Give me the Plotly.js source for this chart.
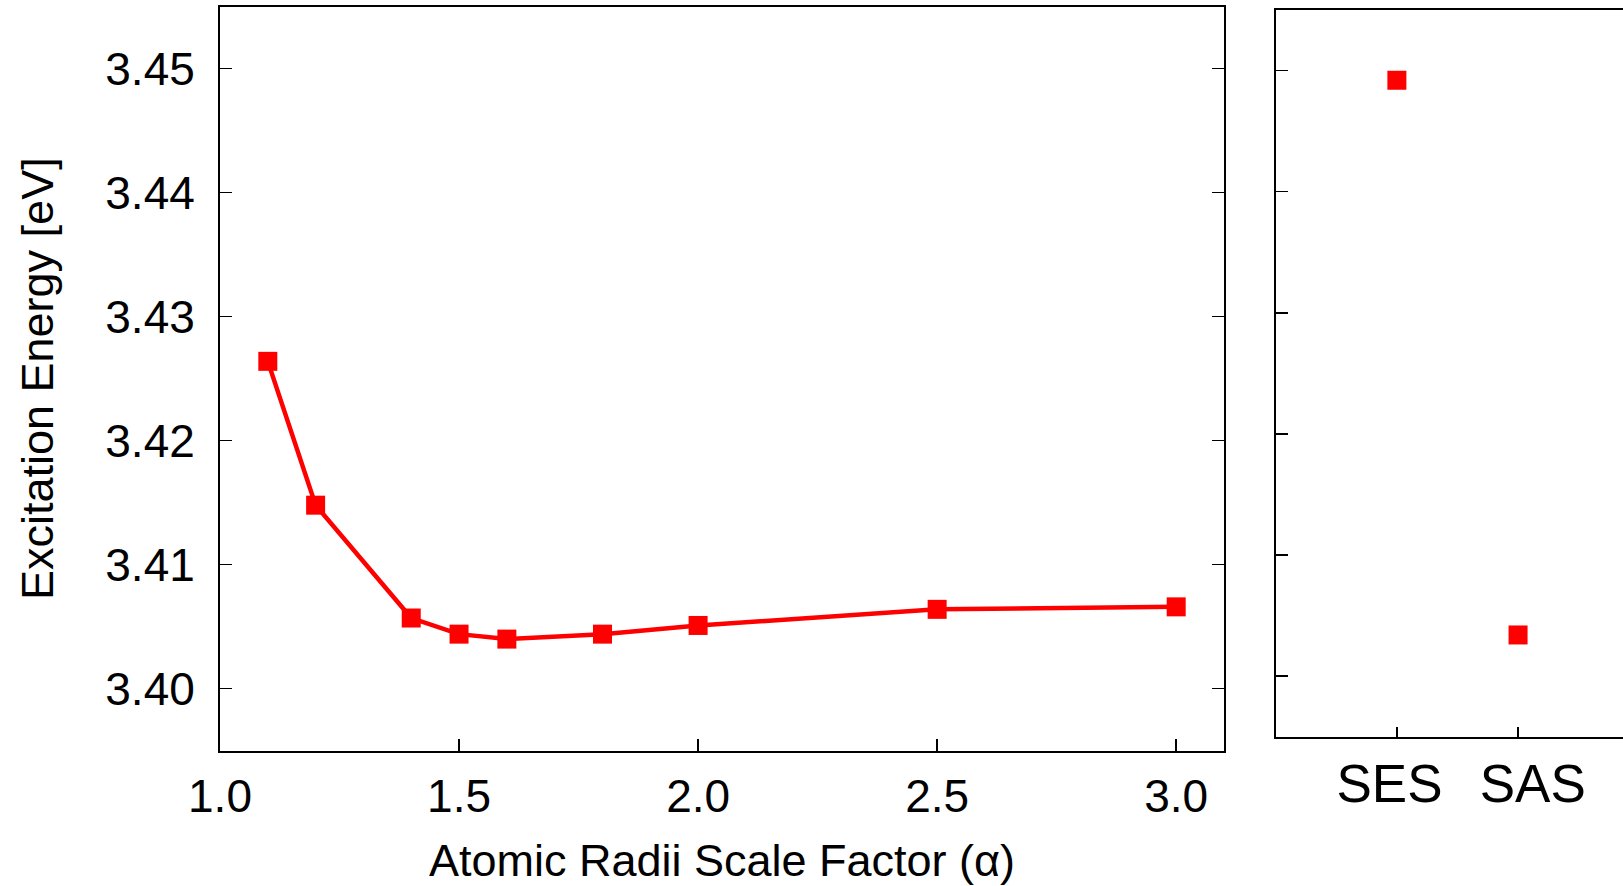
<!DOCTYPE html>
<html>
<head>
<meta charset="utf-8">
<script src="https://cdn.plot.ly/plotly-3.0.1.min.js"></script>
<style>
  html, body { margin: 0; padding: 0; background: #fff; overflow: hidden; }
  #chart { width: 1623px; height: 886px; }
</style>
</head>
<body>
<div id="chart"></div>
<script>
// Scan of atomic radii scale factor
const alphaValues = [1.1, 1.2, 1.4, 1.5, 1.6, 1.8, 2.0, 2.5, 3.0];
const alphaEnergy = [3.4264, 3.4148, 3.4057, 3.4044, 3.4040, 3.4044, 3.4051, 3.4064, 3.4066];

// Surface types
const surfaceCategories = ['SES', 'SAS'];
const surfaceEnergy = [3.4492, 3.4034];

const xTickVals = [1.0, 1.5, 2.0, 2.5, 3.0];
const xTickText = ['1.0', '1.5', '2.0', '2.5', '3.0'];
const yTickVals = [3.40, 3.41, 3.42, 3.43, 3.44, 3.45];
const yTickText = ['3.40', '3.41', '3.42', '3.43', '3.44', '3.45'];

const RED = '#ff0000';
const FONT = 'Liberation Sans, Arial, Helvetica, sans-serif';
const NBSP = '\u00a0';

const traces = [
  {
    x: alphaValues, y: alphaEnergy,
    type: 'scatter', mode: 'lines+markers',
    line: { color: RED, width: 4.5 },
    marker: { symbol: 'square', size: 19, color: RED },
    xaxis: 'x', yaxis: 'y', showlegend: false, cliponaxis: false
  },
  {
    x: surfaceCategories.map((c, i) => i), y: surfaceEnergy,
    type: 'scatter', mode: 'markers',
    marker: { symbol: 'square', size: 19, color: RED },
    xaxis: 'x2', yaxis: 'y2', showlegend: false, cliponaxis: false
  }
];

const W = 1623, H = 886;
const axisCommon = {
  showgrid: false, zeroline: false, showline: true,
  linecolor: '#000', linewidth: 2,
  ticks: 'inside', ticklen: 12, tickwidth: 1.5, tickcolor: '#000',
  tickangle: 0,
  tickfont: { family: FONT, size: 46, color: '#000' }
};

const layout = {
  width: W, height: H,
  margin: { l: 0, r: 0, t: 0, b: 0 },
  paper_bgcolor: '#fff', plot_bgcolor: '#fff',
  font: { family: FONT, color: '#000' },
  xaxis: Object.assign({}, axisCommon, {
    domain: [220 / W, 1224 / W],
    range: [1.0, 3.1],
    tickmode: 'array', tickvals: xTickVals, ticktext: xTickText,
    mirror: true,
    anchor: 'y',
    ticklabelstandoff: 4,
    title: { text: 'Atomic Radii Scale Factor (α)', font: { family: FONT, size: 45, color: '#000' }, standoff: 44 },
    automargin: false
  }),
  yaxis: Object.assign({}, axisCommon, {
    domain: [1 - 750.7 / H, 1 - 6.7 / H],
    range: [3.395, 3.455],
    tickmode: 'array', tickvals: yTickVals, ticktext: yTickText,
    mirror: 'ticks',
    anchor: 'x',
    ticklabelstandoff: 14,
    title: { text: 'Excitation Energy [eV]', font: { family: FONT, size: 45, color: '#000' }, standoff: 38 },
    automargin: false
  }),
  xaxis2: Object.assign({}, axisCommon, {
    domain: [1275.7 / W, 1.0],
    range: [-1, 1.866],
    tickmode: 'array', tickvals: surfaceCategories.map((c, i) => i),
    ticktext: [surfaceCategories[0] + NBSP, NBSP + NBSP + surfaceCategories[1]],
    tickfont: { family: FONT, size: 53, color: '#000' },
    tickangle: 0,
    ticklen: 10,
    mirror: true,
    anchor: 'y2',
    ticklabelstandoff: 0,
    automargin: false
  }),
  yaxis2: Object.assign({}, axisCommon, {
    domain: [1 - 736.7 / H, 1 - 10 / H],
    range: [3.395, 3.455],
    tickmode: 'array', tickvals: yTickVals, showticklabels: false,
    mirror: false,
    anchor: 'x2',
    automargin: false
  })
};

Plotly.newPlot('chart', traces, layout, { displayModeBar: false, responsive: false, staticPlot: true });
</script>
</body>
</html>
